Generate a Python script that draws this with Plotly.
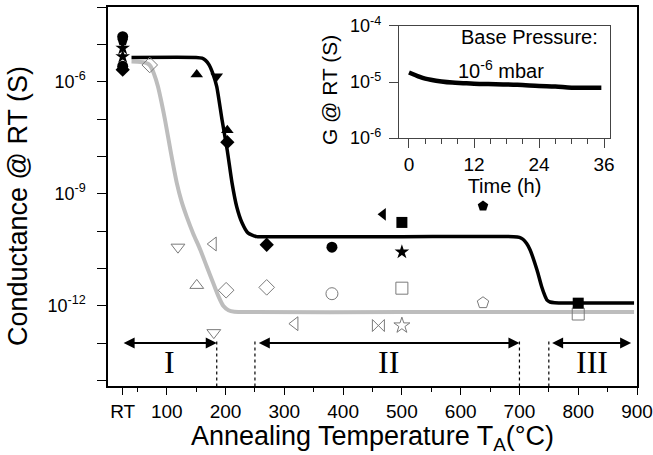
import plotly.graph_objects as go

# ---------------- data ----------------
# fit curves: annealing temperature (°C) and log10 of conductance (S)
black_fit_T = [40, 150, 160, 166, 172, 179, 185, 194, 203, 211, 219, 228, 238, 253, 270, 500, 690,
               700, 706, 712, 718, 730, 738, 743, 747, 752, 760, 800, 895]
black_fit_logG = [-5.35, -5.35, -5.37, -5.43, -5.55, -5.81, -6.13, -7.02, -7.85, -8.71, -9.35, -9.78,
                  -10.05, -10.15, -10.15, -10.15, -10.15, -10.17, -10.22, -10.33, -10.5, -11.05, -11.5,
                  -11.72, -11.85, -11.9, -11.92, -11.93, -11.93]

gray_fit_T = [40, 55, 63, 68, 72, 78, 85, 91, 97, 107, 117, 125, 134, 145, 157, 168, 179, 188, 196,
              205, 215, 240, 500, 895]
gray_fit_logG = [-5.46, -5.47, -5.49, -5.52, -5.58, -5.78, -6.13, -6.55, -7.02, -7.9, -8.71, -9.2,
                 -9.62, -10.07, -10.5, -10.95, -11.39, -11.75, -12.0, -12.12, -12.16, -12.17, -12.17, -12.17]

# filled (black) symbols
filled_T = [25, 25, 25, 25, 25, 25, 151, 185, 203, 203, 270, 381, 468, 500, 500, 638, 800]
filled_G = [1.6e-5, 1.25e-5, 7.9e-6, 4.7e-6, 2.6e-6, 2.1e-6, 1.55e-6, 1.4e-6, 5.0e-8, 2.4e-8,
            4.3e-11, 3.7e-11, 2.8e-10, 1.7e-10, 2.75e-11, 4.7e-10, 1.17e-12]
filled_symbols = ["circle", "pentagon", "star", "star", "circle", "diamond", "triangle-up",
                  "triangle-down", "triangle-up", "diamond", "diamond", "circle", "triangle-left",
                  "square", "star", "pentagon", "square"]

# open (gray) symbols
open_T = [71, 119, 151, 179, 180, 201, 270, 318, 381, 460, 500, 500, 638, 800]
open_G = [2.8e-6, 3.7e-11, 3.5e-12, 4.5e-11, 1.9e-13, 2.6e-12, 3.1e-12, 3.3e-13, 2.1e-12,
          2.95e-13, 2.95e-12, 2.95e-13, 1.2e-12, 6.0e-13]
open_symbols = ["diamond", "triangle-down", "triangle-up", "triangle-left", "triangle-down",
                "diamond", "diamond", "triangle-left", "circle", "bowtie", "square", "star",
                "pentagon", "square"]

# inset: time (h) and log10 conductance (S)
inset_t = [0, 1, 2, 3, 4, 6, 8, 10, 12, 16, 20, 24, 27, 30, 33, 35.5]
inset_logG = [-4.83, -4.87, -4.91, -4.94, -4.96, -4.99, -5.01, -5.02, -5.03, -5.04, -5.05, -5.07,
              -5.08, -5.10, -5.10, -5.10]

# regions
region_labels = ["I", "II", "III"]
region_label_T = [104, 478, 823]
region_arrow_start = [24, 254, 753]
region_arrow_end = [185, 700, 890]
region_bounds = [185, 250, 700, 750]

x_tickvals = [25, 100, 200, 300, 400, 500, 600, 700, 800, 900]
x_ticktext = ["RT", "100", "200", "300", "400", "500", "600", "700", "800", "900"]
x_minor_vals = [50, 150, 250, 350, 450, 550, 650, 750, 850]
y_major_exps = [-12, -9, -6]
y_minor_exps = [-14, -13, -11, -10, -8, -7, -5, -4]
inset_y_exps = [-6, -5, -4]
inset_x_tickvals = [0, 12, 24, 36]
inset_x_minor = [3, 6, 9, 15, 18, 21, 27, 30, 33]

# ---------------- figure ----------------
FONT = "Liberation Sans, Arial, sans-serif"
fig = go.Figure()

fig.add_trace(go.Scatter(x=gray_fit_T, y=[10 ** v for v in gray_fit_logG], mode="lines",
                         line=dict(color="#bdbdbd", width=4, shape="spline", smoothing=0.6),
                         showlegend=False, hoverinfo="skip"))
fig.add_trace(go.Scatter(x=black_fit_T, y=[10 ** v for v in black_fit_logG], mode="lines",
                         line=dict(color="black", width=3.5, shape="spline", smoothing=0.6),
                         showlegend=False, hoverinfo="skip"))

# dotted region boundaries
for b in region_bounds:
    fig.add_trace(go.Scatter(x=[b, b], y=[1.1e-13, 10 ** -14.15], mode="lines",
                             line=dict(color="black", width=1.2, dash="dot"),
                             showlegend=False, hoverinfo="skip"))

fig.add_trace(go.Scatter(x=open_T, y=open_G, mode="markers",
                         marker=dict(symbol=[s + "-open" for s in open_symbols], size=12,
                                     color="#7a7a7a", line=dict(width=1, color="#7a7a7a")),
                         showlegend=False))
fig.add_trace(go.Scatter(x=filled_T, y=filled_G, mode="markers",
                         marker=dict(symbol=filled_symbols, size=11, color="black",
                                     line=dict(width=0)),
                         showlegend=False))

# inset
fig.add_trace(go.Scatter(x=inset_t, y=[10 ** v for v in inset_logG], mode="lines",
                         line=dict(color="black", width=4.5, shape="spline"),
                         xaxis="x2", yaxis="y2", showlegend=False))

annotations = []
for s, e in zip(region_arrow_start, region_arrow_end):
    annotations.append(dict(x=e, y=-13, ax=s, ay=-13, xref="x", yref="y", axref="x", ayref="y",
                            text="", showarrow=True, arrowhead=2, arrowside="end+start",
                            arrowsize=1.1, arrowwidth=2, arrowcolor="black", standoff=0,
                            startstandoff=0))
for lab, t in zip(region_labels, region_label_T):
    annotations.append(dict(x=t, y=-13.52, xref="x", yref="y", text=lab, showarrow=False,
                            font=dict(family="Liberation Serif, Times New Roman, serif",
                                      size=32, color="black")))
annotations.append(dict(x=0.931, y=0.92, xref="paper", yref="paper", text="Base Pressure:",
                        showarrow=False, xanchor="right", yanchor="middle",
                        font=dict(family=FONT, size=20, color="black")))
annotations.append(dict(x=0.657, y=0.835, xref="paper", yref="paper",
                        text="10<sup>-6</sup> mbar", showarrow=False, xanchor="left",
                        yanchor="middle", font=dict(family=FONT, size=20, color="black")))
# main y-axis title
annotations.append(dict(x=-0.170, y=0.475, xref="paper", yref="paper",
                        text="Conductance @ RT (S)", textangle=-90, showarrow=False,
                        xanchor="center", yanchor="middle",
                        font=dict(family=FONT, size=27, color="black")))
# inset y-axis title
annotations.append(dict(x=0.418, y=0.781, xref="paper", yref="paper",
                        text="G @ RT (S)", textangle=-90, showarrow=False,
                        xanchor="center", yanchor="middle",
                        font=dict(family=FONT, size=21, color="black")))

tick_common = dict(ticks="outside", tickwidth=1.2, showgrid=False,
                   zeroline=False, showline=True, mirror=True, automargin=False)

fig.update_layout(
    width=653, height=455,
    margin=dict(l=108, r=16, t=7, b=69),
    paper_bgcolor="white", plot_bgcolor="white",
    font=dict(family=FONT, color="black"),
    annotations=annotations,
    xaxis=dict(range=[0, 900], tickmode="array", tickvals=x_tickvals, ticktext=x_ticktext,
               ticklen=7, linewidth=1.5, linecolor="black", tickcolor="black",
               minor=dict(tickmode="array", tickvals=x_minor_vals, ticks="outside",
                          ticklen=4, tickwidth=1.2, tickcolor="black"),
               tickfont=dict(size=19, family=FONT),
               title=dict(text="Annealing Temperature T<sub>A</sub>(°C)",
                          font=dict(size=27, family=FONT), standoff=4),
               **tick_common),
    yaxis=dict(type="log", range=[-14.15, -4.0], tickmode="array",
               tickvals=[10.0 ** e for e in y_major_exps],
               ticktext=["10<sup>%d</sup>" % e for e in y_major_exps],
               ticklen=9, linewidth=1.5, linecolor="black", tickcolor="black",
               ticklabelstandoff=8,
               minor=dict(tickmode="array", tickvals=[10.0 ** e for e in y_minor_exps],
                          ticks="outside", ticklen=9, tickwidth=1.2, tickcolor="black"),
               tickfont=dict(size=18, family=FONT),
               **tick_common),
    xaxis2=dict(domain=[0.550, 0.949], anchor="y2", range=[-1.85, 37.1], tickmode="array",
                tickvals=inset_x_tickvals, ticklen=9, linewidth=1.2,
                linecolor="#444444", tickcolor="#444444",
                minor=dict(tickmode="array", tickvals=inset_x_minor, ticks="outside",
                           ticklen=5, tickwidth=1.2, tickcolor="#444444"),
                tickfont=dict(size=19, family=FONT),
                title=dict(text="Time (h)", font=dict(size=20, family=FONT), standoff=0),
                **tick_common),
    yaxis2=dict(domain=[0.654, 0.950], anchor="x2", type="log", range=[-6, -4],
                tickmode="array", tickvals=[10.0 ** e for e in inset_y_exps],
                ticktext=["10<sup>%d</sup>" % e for e in inset_y_exps],
                ticklen=9, linewidth=1.2, linecolor="#444444", tickcolor="#444444",
                ticklabelstandoff=4,
                tickfont=dict(size=18, family=FONT),
                **tick_common),
)

fig.write_html("out.html", config={"displayModeBar": False},
               post_script="document.body.style.margin='0';")
